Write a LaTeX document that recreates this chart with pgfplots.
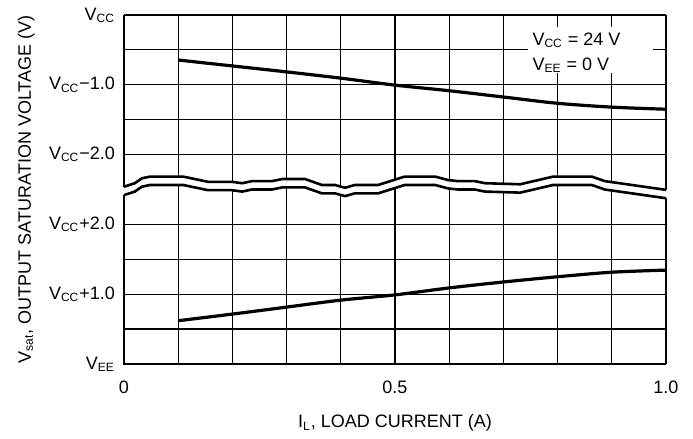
\documentclass[border=0pt]{standalone}
\usepackage{fontspec}
\setmainfont{Liberation Sans}
\usepackage{pgfplots}
\pgfplotsset{compat=1.18}

\begin{document}
\begin{tikzpicture}
\useasboundingbox (-62pt,-37.5pt) rectangle (284.5pt,182pt);
\begin{axis}[
    at={(0,0)}, anchor=south west,
    scale only axis,
    width=271pt, height=174.5pt,
    xmin=0, xmax=1, ymin=0, ymax=10,
    clip=false,
    axis line style={draw=none},
    xtick={0,0.5,1}, xticklabels={0,0.5,1.0},
    minor xtick={0.1,0.2,0.3,0.4,0.6,0.7,0.8,0.9},
    ytick={0,2,4,6,8,10},
    yticklabels={V\textsubscript{EE}, V\textsubscript{CC}+1.0, V\textsubscript{CC}+2.0,
                 V\textsubscript{CC}−2.0, V\textsubscript{CC}−1.0, V\textsubscript{CC}},
    minor ytick={1,3,7,9},
    grid=both,
    major grid style={black, line width=0.6pt},
    minor grid style={black, line width=0.6pt},
    major tick length=0pt, minor tick length=0pt,
    tick label style={font=\fontsize{9}{10}\selectfont},
    xticklabel style={yshift=-5pt},
    yticklabel style={xshift=-1pt},
    label style={font=\fontsize{9}{10}\selectfont},
    xlabel={I\textsubscript{L}, LOAD CURRENT (A)},
    xlabel style={at={(axis description cs:0.5,-0.1834)}, anchor=base},
    ylabel={V\textsubscript{sat}, OUTPUT SATURATION VOLTAGE (V)},
    ylabel style={at={(axis description cs:-0.1716,0.5)}, anchor=base},
]

% white gap of the axis break
\addplot[fill=white, draw=none] coordinates {
    (-0.005,5.08)(0,5.08)(0.020,5.18)(0.033,5.32)(0.048,5.37)(0.109,5.37)(0.155,5.22)
    (0.199,5.22)(0.218,5.18)(0.236,5.24)(0.273,5.24)(0.292,5.30)(0.334,5.30)
    (0.365,5.13)(0.389,5.13)(0.408,5.05)(0.426,5.13)(0.469,5.13)(0.518,5.37)
    (0.574,5.37)(0.598,5.27)(0.616,5.24)(0.647,5.24)(0.666,5.18)(0.731,5.15)
    (0.792,5.37)(0.863,5.37)(0.887,5.24)(1.0,4.99)(1.005,4.99)
    (1.005,4.75)(1.0,4.75)(0.887,5.00)(0.863,5.13)(0.792,5.13)(0.731,4.91)
    (0.666,4.94)(0.647,5.00)(0.616,5.00)(0.598,5.03)(0.574,5.13)(0.518,5.13)
    (0.469,4.89)(0.426,4.89)(0.408,4.81)(0.389,4.89)(0.365,4.89)(0.334,5.06)
    (0.292,5.06)(0.273,5.00)(0.236,5.00)(0.218,4.94)(0.199,4.98)(0.155,4.98)
    (0.109,5.13)(0.048,5.13)(0.033,5.08)(0.020,4.94)(0,4.84)(-0.005,4.84)
};
% break lines
\addplot[black, line width=1.3pt] coordinates {
    (0,5.08)(0.020,5.18)(0.033,5.32)(0.048,5.37)(0.109,5.37)(0.155,5.22)
    (0.199,5.22)(0.218,5.18)(0.236,5.24)(0.273,5.24)(0.292,5.30)(0.334,5.30)
    (0.365,5.13)(0.389,5.13)(0.408,5.05)(0.426,5.13)(0.469,5.13)(0.518,5.37)
    (0.574,5.37)(0.598,5.27)(0.616,5.24)(0.647,5.24)(0.666,5.18)(0.731,5.15)
    (0.792,5.37)(0.863,5.37)(0.887,5.24)(1.0,4.99)
};
\addplot[black, line width=1.3pt] coordinates {
    (0,4.84)(0.020,4.94)(0.033,5.08)(0.048,5.13)(0.109,5.13)(0.155,4.98)
    (0.199,4.98)(0.218,4.94)(0.236,5.00)(0.273,5.00)(0.292,5.06)(0.334,5.06)
    (0.365,4.89)(0.389,4.89)(0.408,4.81)(0.426,4.89)(0.469,4.89)(0.518,5.13)
    (0.574,5.13)(0.598,5.03)(0.616,5.00)(0.647,5.00)(0.666,4.94)(0.731,4.91)
    (0.792,5.13)(0.863,5.13)(0.887,5.00)(1.0,4.75)
};

% high-side saturation
\addplot[black, line width=1.6pt, smooth] coordinates {
    (0.1,8.71)(0.2,8.54)(0.3,8.37)(0.4,8.19)(0.5,7.99)(0.6,7.83)
    (0.7,7.65)(0.8,7.47)(0.9,7.36)(1.0,7.30)
};
% low-side saturation
\addplot[black, line width=1.6pt, smooth] coordinates {
    (0.1,1.24)(0.2,1.43)(0.3,1.63)(0.4,1.83)(0.5,1.98)(0.6,2.18)
    (0.7,2.35)(0.8,2.50)(0.9,2.63)(1.0,2.69)
};

% axis lines (left one broken)
\draw[line width=1.2pt] (axis cs:0,10) -- (axis cs:0,5.08);
\draw[line width=1.2pt, line join=miter] (axis cs:0,4.84) -- (axis cs:0,0) -- (axis cs:1,0);

% condition box
\fill[white] (axis cs:0.745,8.34) rectangle (axis cs:0.976,9.66);
\node[anchor=base west, inner sep=0pt, font=\fontsize{9}{10}\selectfont]
    at (axis cs:0.753,9.14) {V\textsubscript{CC} = 24 V};
\node[anchor=base west, inner sep=0pt, font=\fontsize{9}{10}\selectfont]
    at (axis cs:0.753,8.42) {V\textsubscript{EE} = 0 V};
\end{axis}
\end{tikzpicture}
\end{document}
